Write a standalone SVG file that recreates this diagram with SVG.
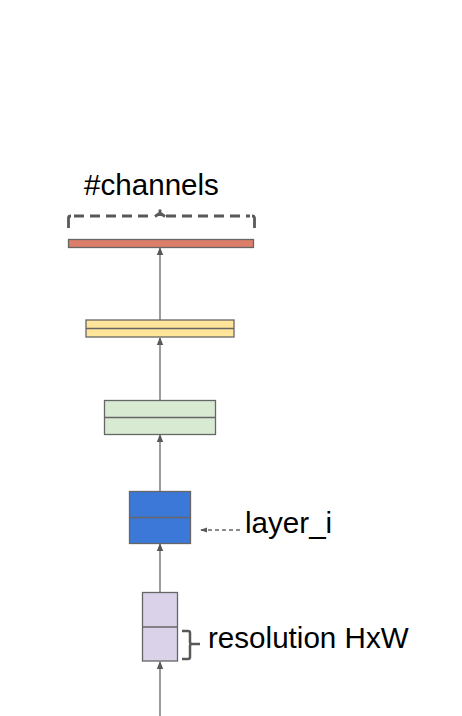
<svg xmlns="http://www.w3.org/2000/svg" width="462" height="716" viewBox="0 0 462 716">
<defs>
<marker id="ah" markerWidth="8" markerHeight="8" refX="7" refY="4" orient="auto" markerUnits="userSpaceOnUse">
<path d="M0,0.8 L8,4 L0,7.2 Z" fill="#595959"/>
</marker>
<marker id="ahs" markerWidth="8" markerHeight="6" refX="7" refY="3" orient="auto" markerUnits="userSpaceOnUse">
<path d="M0,0.5 L7,3 L0,5.5 Z" fill="#595959"/>
</marker>
</defs>
<style>
.box{stroke:#666666;stroke-width:1.3}
.conn{stroke:#666666;stroke-width:1.3;fill:none}
.lbl{font-family:"Liberation Sans",Arial,sans-serif;font-size:29.6px;fill:#000}
</style>
<rect width="462" height="716" fill="#ffffff"/>
<g id="connectors">
<line class="conn" x1="160" y1="320" x2="160" y2="248" marker-end="url(#ah)"/>
<line class="conn" x1="160" y1="400" x2="160" y2="338" marker-end="url(#ah)"/>
<line class="conn" x1="160" y1="491" x2="160" y2="435" marker-end="url(#ah)"/>
<line class="conn" x1="160" y1="592" x2="160" y2="544" marker-end="url(#ah)"/>
<line class="conn" x1="160" y1="716" x2="160" y2="662" marker-end="url(#ah)"/>
<line class="conn" x1="240" y1="530" x2="200" y2="530" stroke-dasharray="4 3" stroke-width="1" marker-end="url(#ahs)"/>
</g>
<g id="channels-label">
<text class="lbl" x="84" y="195">#channels</text>
<path d="M74,216 L154,216 M166,216 L250,216" fill="none" stroke="#595959" stroke-width="2.8" stroke-dasharray="10 6"/>
<path d="M155,216.5 L160,213 L165,216.5 M160,216 L160,209.5" fill="none" stroke="#595959" stroke-width="2.8"/>
<path d="M68.5,228 L68.5,218 Q68.5,216 71,216" fill="none" stroke="#595959" stroke-width="2.8"/>
<path d="M254.5,228 L254.5,218 Q254.5,216 252,216" fill="none" stroke="#595959" stroke-width="2.8"/>
</g>
<g id="layer-red">
<rect class="box" x="68.5" y="239.5" width="185" height="8" fill="#dd7e6b"/>
</g>
<g id="layer-yellow">
<rect class="box" x="86" y="320" width="148" height="17" fill="#ffe599"/>
<line class="box" x1="86" y1="328.5" x2="234" y2="328.5"/>
</g>
<g id="layer-green">
<rect class="box" x="104.5" y="400.5" width="111" height="34" fill="#d9ead3"/>
<line class="box" x1="104.5" y1="417.5" x2="215.5" y2="417.5"/>
</g>
<g id="layer-blue">
<rect class="box" x="129.5" y="491.5" width="61" height="52" fill="#3c78d8"/>
<line class="box" x1="129.5" y1="517.5" x2="190.5" y2="517.5"/>
<text class="lbl" x="245" y="533">layer_i</text>
</g>
<g id="layer-purple">
<rect class="box" x="142.5" y="592.5" width="35" height="68.5" fill="#d9d2e9"/>
<line class="box" x1="142.5" y1="627" x2="177.5" y2="627"/>
<path d="M182,631 L188,631 Q190,631 190,633 L190,642 Q190,644 192,644 L200,644 M192,644 Q190,644 190,646 L190,657 Q190,659 188,659 L182,659" fill="none" stroke="#595959" stroke-width="2.5"/>
<text class="lbl" x="208" y="648">resolution HxW</text>
</g>
</svg>
